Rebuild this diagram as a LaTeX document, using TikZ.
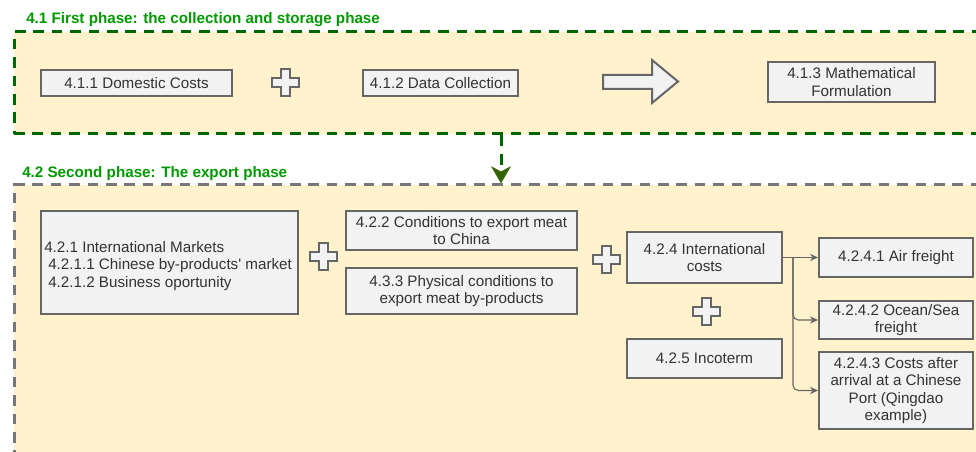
\documentclass[tikz,border=0pt]{standalone}
\usepackage{fontspec}
\setmainfont{Liberation Sans}
\usetikzlibrary{arrows.meta,calc}

\definecolor{phasefill}{HTML}{FFF2CC}
\definecolor{boxfill}{HTML}{F2F2F2}
\definecolor{boxline}{HTML}{666666}
\definecolor{textgray}{HTML}{333333}
\definecolor{titlegreen}{HTML}{009900}
\definecolor{phasegreen}{HTML}{006600}
\definecolor{phasegray}{HTML}{777777}
\definecolor{arrowgreen}{HTML}{336600}

\tikzset{
  every node/.style={font=\fontsize{11.4}{13.1}\selectfont, text=textgray},
  phasebox/.style={draw, fill=phasefill, line width=2.25pt,
    dash pattern=on 8pt off 5.8pt, inner sep=0pt},
  phasetitle/.style={anchor=west, inner sep=0pt,
    font=\fontsize{11.4}{13.1}\selectfont\bfseries, text=titlegreen},
  topic/.style={draw=boxline, fill=boxfill, line width=1.5pt,
    align=center, inner sep=2pt},
  link/.style={draw=boxline, line width=0.8pt, rounded corners=4pt,
    -{Stealth[length=6pt,width=5.5pt]}},
  phaselink/.style={draw=phasegreen, line width=2.25pt,
    dash pattern=on 8pt off 5.8pt,
    -{Stealth[length=13pt,width=15pt,inset=4pt,fill=arrowgreen,line width=0pt]}},
  plus sign/.pic={
    \draw[boxline, fill=boxfill, line width=1.5pt]
      (-4.5,-13.5) -- (4.5,-13.5) -- (4.5,-4.5) -- (13.5,-4.5) -- (13.5,4.5)
      -- (4.5,4.5) -- (4.5,13.5) -- (-4.5,13.5) -- (-4.5,4.5) -- (-13.5,4.5)
      -- (-13.5,-4.5) -- (-4.5,-4.5) -- cycle;
  },
}

\begin{document}
\begin{tikzpicture}[x=0.75pt,y=-0.75pt]
\useasboundingbox (0,0) rectangle (976,452);
\clip (0,0) rectangle (976,452);

% phase containers
\node[phasebox, draw=phasegreen, minimum width=976*0.75pt, minimum height=102*0.75pt]
  (p1) at (502,83) {};
\node[phasebox, draw=phasegray, minimum width=976*0.75pt, minimum height=285*0.75pt]
  (p2) at (502,327.5) {};

\node[phasetitle] (t1) at (26,20) {4.1 First phase: the collection and storage phase};
\node[phasetitle] (t2) at (22,174) {4.2 Second phase: The export phase};

% phase 1 contents
\node[topic, minimum width=191*0.75pt, minimum height=26*0.75pt] (dom) at (136.5,83) {4.1.1 Domestic Costs};
\node[topic, minimum width=155*0.75pt, minimum height=26*0.75pt] (data) at (440.5,83) {4.1.2 Data Collection};
\node[topic, minimum width=167*0.75pt, minimum height=40*0.75pt] (math) at (851.5,82) {4.1.3 Mathematical\\Formulation};
\pic at (285,83) {plus sign};
\draw[boxline, fill=boxfill, line width=1.5pt]
  (603,75) -- (652,75) -- (652,60) -- (678,81.5) -- (652,103) -- (652,89) -- (603,89) -- cycle;

% transition between phases
\coordinate (drop) at (501,0);
\draw[phaselink] (p1.south -| drop) -- (p2.north -| drop);

% phase 2 contents
\node[topic, minimum width=257*0.75pt, minimum height=103*0.75pt] (m421) at (169.5,262.5) {};
\node[anchor=west, align=left, inner sep=0pt] (m421text) at ($(m421.west)+(4,3.5)$)
  {4.2.1 International Markets\\\hspace*{3pt}4.2.1.1 Chinese by-products\textquotesingle{} market\\\hspace*{3pt}4.2.1.2 Business oportunity};
\node[topic, minimum width=231*0.75pt, minimum height=39*0.75pt] (m422) at (461.5,230.5)
  {4.2.2 Conditions to export meat\\to China};
\node[topic, minimum width=231*0.75pt, minimum height=46*0.75pt] (m433) at (461.5,291)
  {4.3.3 Physical conditions to\\export meat by-products};
\node[topic, minimum width=155*0.75pt, minimum height=51*0.75pt] (m424) at (704.5,257.5)
  {4.2.4 International\\costs};
\node[topic, minimum width=155*0.75pt, minimum height=39*0.75pt] (m425) at (704.5,358.5)
  {4.2.5 Incoterm};
\node[topic, minimum width=154*0.75pt, minimum height=39*0.75pt] (air) at (896,257.5)
  {4.2.4.1 Air freight};
\node[topic, minimum width=154*0.75pt, minimum height=38*0.75pt] (ocean) at (896,320)
  {4.2.4.2 Ocean/Sea\\freight};
\node[topic, minimum width=154*0.75pt, minimum height=77*0.75pt] (after) at (896,390.5)
  {4.2.4.3 Costs after\\arrival at a Chinese\\Port (Qingdao\\example)};

\pic at (323.5,257) {plus sign};
\pic at (606,259.5) {plus sign};
\pic at (706,311.5) {plus sign};

% freight breakdown
\coordinate (split) at (793,257.5);
\draw[link] (m424.east) -- (air.west);
\draw[link] (split) |- (ocean.west);
\draw[link] (split) |- (after.west);
\end{tikzpicture}
\end{document}
